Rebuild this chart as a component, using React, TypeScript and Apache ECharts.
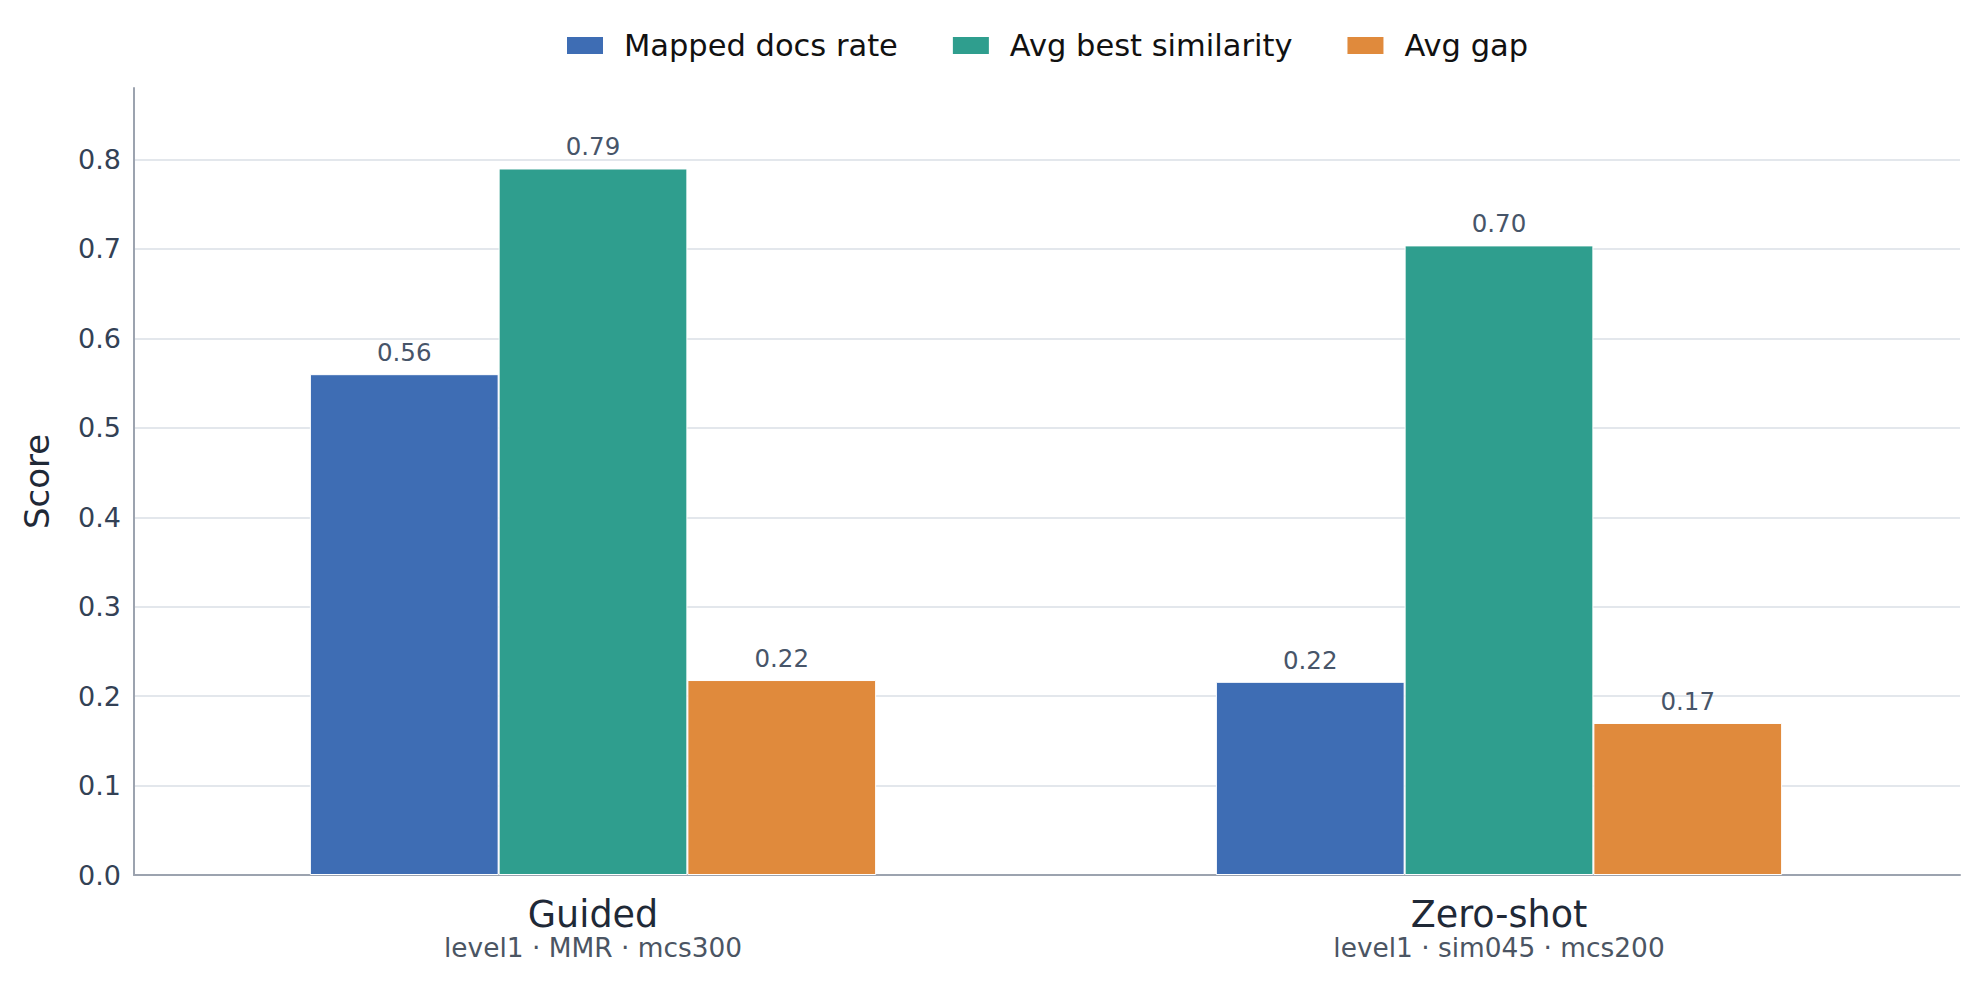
import React, { useEffect, useRef } from "react";
import * as echarts from "echarts";

const categories = ["Guided", "Zero-shot"];
const subLabels = ["level1 · MMR · mcs300", "level1 · sim045 · mcs200"];
const seriesNames = ["Mapped docs rate", "Avg best similarity", "Avg gap"];
const mappedDocsRate = [0.56, 0.216];
const avgBestSimilarity = [0.79, 0.704];
const avgGap = [0.218, 0.17];
const seriesColors = ["#3e6db4", "#2f9e8e", "#e08a3c"];

const FONT = "DejaVu Sans";
const Y_MAX = 0.88;

export default function App() {
  const ref = useRef<HTMLDivElement>(null);

  useEffect(() => {
    document.body.style.margin = "0";
    if (!ref.current) return;
    const chart = echarts.init(ref.current, null, { renderer: "svg" });
    const values = [mappedDocsRate, avgBestSimilarity, avgGap];

    chart.setOption({
      animation: false,
      backgroundColor: "#ffffff",
      textStyle: { fontFamily: FONT },
      legend: {
        data: seriesNames,
        left: 560,
        top: 25,
        icon: "rect",
        itemWidth: 38,
        itemHeight: 19,
        itemGap: 53,
        textStyle: {
          fontFamily: FONT,
          fontSize: 30.5,
          color: "#111111",
          padding: [0, 0, 0, 15],
        },
      },
      // frame grid: axis lines, ticks and grid lines; inner grid: the bars
      grid: [
        { left: 134, right: 19, top: 88, bottom: 106, containLabel: false },
        { left: 140, right: 27, top: 88, bottom: 106, containLabel: false },
      ],
      xAxis: [
        {
          type: "category",
          gridIndex: 0,
          data: categories,
          axisLine: { show: true, lineStyle: { color: "#9ca3af", width: 2 } },
          axisTick: { show: false },
          axisLabel: { show: false },
          splitLine: { show: false },
        },
        {
          type: "category",
          gridIndex: 1,
          data: categories,
          axisLine: { show: false },
          axisTick: { show: false },
          axisLabel: {
            margin: 19,
            interval: 0,
            formatter: (v: string) => {
              const i = categories.indexOf(v);
              return `{a|${v}}\n{b|${subLabels[i]}}`;
            },
            rich: {
              a: { fontFamily: FONT, fontSize: 36.5, lineHeight: 40, color: "#1f2937" },
              b: { fontFamily: FONT, fontSize: 26.4, lineHeight: 27, color: "#4b5563" },
            },
          },
        },
      ],
      yAxis: [
        {
          type: "value",
          gridIndex: 0,
          min: 0,
          max: Y_MAX,
          interval: 0.1,
          name: "Score",
          nameLocation: "middle",
          nameGap: 80,
          nameTextStyle: { fontFamily: FONT, fontSize: 34, color: "#1f2937" },
          axisLine: { show: true, lineStyle: { color: "#9ca3af", width: 2 } },
          axisTick: { show: false },
          axisLabel: {
            margin: 13,
            fontFamily: FONT,
            fontSize: 27,
            color: "#334155",
            showMaxLabel: false,
            formatter: (v: number) => v.toFixed(1),
          },
          splitLine: {
            show: true,
            showMaxLine: false,
            lineStyle: { color: "#e3e7ec", width: 2 },
          },
        },
        {
          type: "value",
          gridIndex: 1,
          min: 0,
          max: Y_MAX,
          show: false,
          splitLine: { show: false },
        },
      ],
      series: seriesNames.map((name, k) => ({
        name,
        type: "bar",
        xAxisIndex: 1,
        yAxisIndex: 1,
        data: values[k],
        barGap: "0%",
        barCategoryGap: "37.5%",
        itemStyle: { color: seriesColors[k], borderColor: "#ffffff", borderWidth: 1 },
        label: {
          show: true,
          position: "top",
          distance: 9,
          fontFamily: FONT,
          fontSize: 24.5,
          color: "#475569",
          formatter: (p: any) => Number(p.value).toFixed(2),
        },
      })),
    });

    return () => chart.dispose();
  }, []);

  return <div ref={ref} style={{ width: 1979, height: 981 }} />;
}
